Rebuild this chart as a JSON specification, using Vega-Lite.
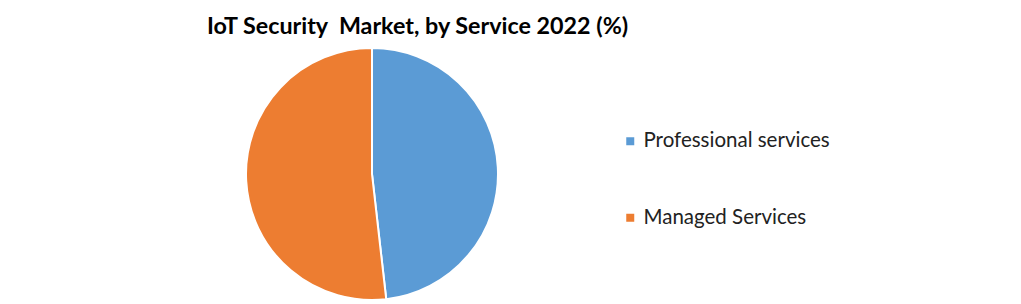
{
  "$schema": "https://vega.github.io/schema/vega-lite/v6.json",
  "autosize": "none",
  "width": 744,
  "height": 260,
  "padding": {"top": 44, "left": 0, "right": 277, "bottom": 0},
  "background": "white",
  "title": {
    "text": "IoT Security\u00a0 Market, by Service 2022 (%)",
    "font": "Lato",
    "fontSize": 23.3,
    "fontWeight": "bold",
    "color": "#000000",
    "anchor": "start",
    "frame": "group",
    "dx": 207,
    "offset": 5
  },
  "data": {
    "values": [
      {"category": "Professional services", "value": 48.2},
      {"category": "Managed Services", "value": 51.8}
    ]
  },
  "mark": {"type": "arc", "outerRadius": 126, "stroke": "white", "strokeWidth": 2},
  "encoding": {
    "theta": {"field": "value", "type": "quantitative", "stack": true},
    "order": {"field": "category", "sort": "descending"},
    "color": {
      "field": "category",
      "type": "nominal",
      "scale": {"domain": ["Professional services", "Managed Services"], "range": ["#5B9BD5", "#ED7D31"]},
      "legend": {
        "title": null,
        "orient": "none",
        "legendX": 620,
        "legendY": 87,
        "symbolType": "square",
        "symbolSize": 64,
        "symbolStrokeWidth": 0,
        "labelFont": "Lato",
        "labelFontSize": 20.5,
        "labelColor": "#222222",
        "labelLimit": 300,
        "rowPadding": 55.5,
        "labelOffset": 3,
        "padding": 0
      }
    }
  },
  "config": {"view": {"stroke": null}}
}
